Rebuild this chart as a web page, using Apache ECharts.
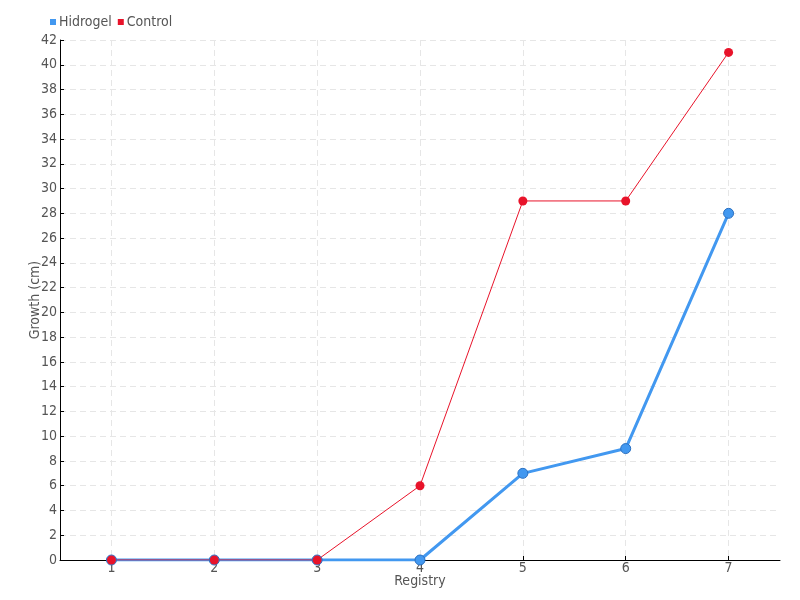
<!DOCTYPE html>
<html><head><meta charset="utf-8">
<script src="https://cdn.jsdelivr.net/npm/echarts@6/dist/echarts.min.js"></script>
<style>html,body{margin:0;padding:0;background:#fff}#c{width:800px;height:600px}</style>
</head><body><div id="c"></div>
<script>
var categories = ['1','2','3','4','5','6','7'];
var hidrogel = [0,0,0,0,7,9,28];
var control = [0,0,0,6,29,29,41];
var FONT = '"DejaVu Sans Condensed", "DejaVu Sans", sans-serif';
var chart = echarts.init(document.getElementById('c'));
chart.setOption({
  animation:false,
  textStyle:{fontFamily:FONT},
  legend:{left:45,top:10,itemWidth:6,itemHeight:6,itemGap:6,icon:'rect',
    itemStyle:{borderWidth:0},
    textStyle:{fontFamily:FONT,fontSize:14,color:'#555',padding:[0,0,0,-2]},
    data:['Hidrogel','Control']},
  grid:{left:60,right:20,top:40,bottom:40},
  xAxis:{type:'category',data:categories,boundaryGap:true,
    name:'Registry',nameLocation:'middle',nameGap:14,nameMoveOverlap:false,
    nameTextStyle:{fontFamily:FONT,fontSize:14,color:'#555'},
    axisLine:{lineStyle:{color:'#000'}},
    axisTick:{show:true,inside:true,alignWithLabel:true,length:4,lineStyle:{color:'#000'}},
    axisLabel:{fontFamily:FONT,fontSize:14,color:'#555',margin:1},
    splitLine:{show:true,alignWithLabel:true,lineStyle:{color:'#e6e6e6',type:[6,4]}}},
  yAxis:{type:'value',min:0,max:42,interval:2,
    name:'Growth (cm)',nameLocation:'middle',nameGap:18,nameMoveOverlap:false,
    nameTextStyle:{fontFamily:FONT,fontSize:14,color:'#555'},
    axisLine:{show:true,lineStyle:{color:'#000'}},
    axisTick:{show:true,inside:true,length:4,lineStyle:{color:'#000'}},
    axisLabel:{fontFamily:FONT,fontSize:14,color:'#555',margin:3},
    splitLine:{show:true,lineStyle:{color:'#e6e6e6',type:[6,4]}}},
  series:[
    {name:'Hidrogel',type:'line',data:hidrogel,color:'#4298f0',
     lineStyle:{width:3,color:'#4298f0'},symbol:'circle',symbolSize:10,
     itemStyle:{color:'#4298f0',borderColor:'#2a6fc0',borderWidth:1}},
    {name:'Control',type:'line',data:control,color:'#e8132a',
     lineStyle:{width:1,color:'#e8132a'},symbol:'circle',symbolSize:9,
     itemStyle:{color:'#e8132a'}}
  ]
});
</script></body></html>
